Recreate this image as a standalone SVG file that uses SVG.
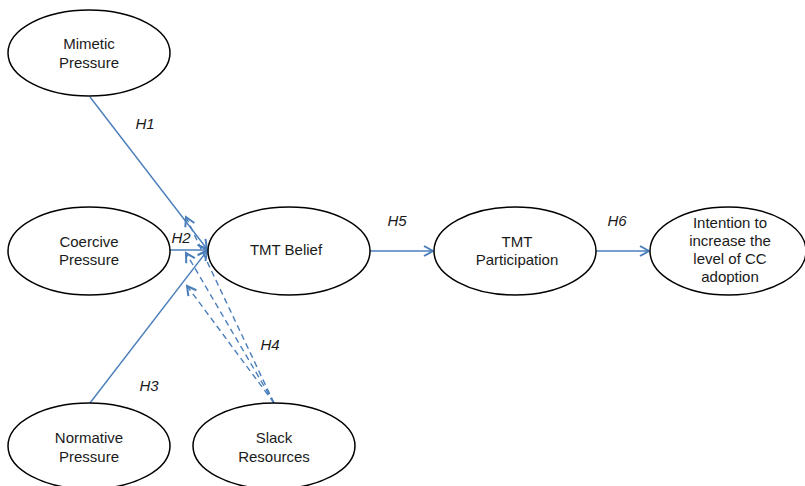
<svg xmlns="http://www.w3.org/2000/svg" width="805" height="486" viewBox="0 0 805 486">
<style>
.node ellipse{fill:#fff;stroke:#000;stroke-width:1.5}
.node text{font-family:"Liberation Sans",Arial,sans-serif;font-size:15px;fill:#1a1a1a;text-anchor:middle}
.lbl{font-family:"Liberation Sans",Arial,sans-serif;font-size:15px;font-style:italic;fill:#1a1a1a;text-anchor:middle}
.c{stroke:#4a7ebb;stroke-width:1.4;fill:none}
.d{stroke-dasharray:6,4}
</style>
<defs>
<marker id="arr" markerUnits="userSpaceOnUse" markerWidth="14" markerHeight="14" viewBox="0 0 14 14" refX="12" refY="7" orient="auto">
<path d="M3,2 L12,7 L3,12" fill="none" stroke="#4a7ebb" stroke-width="2"/>
</marker>
</defs>
<rect width="805" height="486" fill="#fff"/>
<g id="connectors">
<line class="c" x1="90" y1="97" x2="207" y2="249" marker-end="url(#arr)"/>
<line class="c" x1="170" y1="250" x2="207" y2="250" marker-end="url(#arr)"/>
<line class="c" x1="90" y1="403" x2="207" y2="251" marker-end="url(#arr)"/>
<line class="c" x1="370" y1="251" x2="433" y2="251" marker-end="url(#arr)"/>
<line class="c" x1="596" y1="251" x2="649" y2="251" marker-end="url(#arr)"/>
<line class="c d" x1="274" y1="403" x2="186" y2="217" marker-end="url(#arr)"/>
<line class="c d" x1="274" y1="403" x2="186" y2="253" marker-end="url(#arr)"/>
<line class="c d" x1="274" y1="403" x2="187" y2="286" marker-end="url(#arr)"/>
</g>
<g id="mimetic" class="node"><ellipse cx="89" cy="53" rx="81" ry="43"/><text x="89" y="49">Mimetic</text><text x="89" y="68">Pressure</text></g>
<g id="coercive" class="node"><ellipse cx="89" cy="251" rx="81" ry="44"/><text x="89" y="247">Coercive</text><text x="89" y="265">Pressure</text></g>
<g id="normative" class="node"><ellipse cx="89" cy="446" rx="81" ry="43"/><text x="89" y="443">Normative</text><text x="89" y="462">Pressure</text></g>
<g id="slack" class="node"><ellipse cx="274" cy="446" rx="81" ry="43"/><text x="274" y="443">Slack</text><text x="274" y="462">Resources</text></g>
<g id="tmtbelief" class="node"><ellipse cx="289" cy="251" rx="81" ry="44"/><text x="286" y="255">TMT Belief</text></g>
<g id="tmtparticipation" class="node"><ellipse cx="515" cy="251" rx="81" ry="44"/><text x="517" y="247">TMT</text><text x="517" y="265">Participation</text></g>
<g id="intention" class="node"><ellipse cx="728" cy="251" rx="78" ry="44"/><text x="730" y="228">Intention to</text><text x="730" y="246">increase the</text><text x="730" y="264">level of CC</text><text x="730" y="282">adoption</text></g>
<g id="labels">
<text class="lbl" x="145" y="129">H1</text>
<text class="lbl" x="181" y="243">H2</text>
<text class="lbl" x="149" y="391">H3</text>
<text class="lbl" x="270" y="350">H4</text>
<text class="lbl" x="397" y="226">H5</text>
<text class="lbl" x="617" y="226">H6</text>
</g>
</svg>
